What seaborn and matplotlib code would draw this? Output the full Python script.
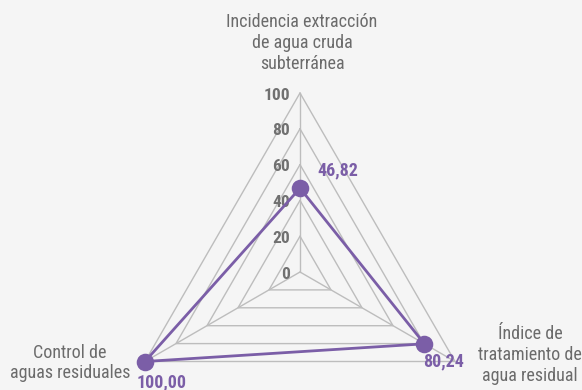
import numpy as np
import pandas as pd
import matplotlib
matplotlib.use("Agg")
import matplotlib.pyplot as plt
from matplotlib import font_manager
import seaborn as sns

# data
categories = ["Incidencia extracción\nde agua cruda\nsubterránea",
              "Índice de\ntratamiento de\nagua residual",
              "Control de\naguas residuales"]
values = [46.82, 80.24, 100.00]
value_labels = ["46,82", "80,24", "100,00"]
ticks = [0, 20, 40, 60, 80, 100]

PURPLE = "#7b5ea7"
GRID = "#bdbdbd"
BG = "#f5f5f5"
TXT = "#6b6b6b"


def pick_font():
    for name in ["Liberation Sans Narrow", "Roboto Condensed", "Roboto", "DejaVu Sans"]:
        try:
            font_manager.findfont(name, fallback_to_default=False)
            return name
        except Exception:
            continue
    return "DejaVu Sans"


sns.set_theme(style="white")
font = pick_font()
plt.rcParams["font.family"] = [font, "DejaVu Sans"]

W, H = 582, 390
fig = plt.figure(figsize=(W / 100, H / 100), dpi=100)
fig.patch.set_facecolor(BG)

# polar axes centred at (300, 272) px with radius 179 px
cx, cy, R = 300, 272, 179
ax = fig.add_axes([(cx - R) / W, (H - cy - R) / H, 2 * R / W, 2 * R / H], projection="polar")
ax.set_facecolor("none")
ax.set_theta_offset(np.pi / 2)
ax.set_theta_direction(-1)
ax.set_ylim(0, 100)
ax.grid(False)
ax.spines["polar"].set_visible(False)
ax.set_xticks([])
ax.set_yticks([])

angles = np.arange(len(categories)) * 2 * np.pi / len(categories)
closed = np.append(angles, angles[0])

# grid rings and spokes
for t in ticks[1:]:
    ax.plot(closed, [t] * len(closed), color=GRID, lw=1.0, zorder=1, clip_on=False)
for a in angles:
    ax.plot([a, a], [0, 100], color=GRID, lw=1.0, zorder=1, clip_on=False)

# tick labels on the top spoke
for t in ticks:
    ax.annotate(str(t), xy=(0, t), xytext=(-7, -1.5), textcoords="offset points",
                ha="right", va="center", fontsize=12.5, fontweight="bold", color="#707070", zorder=2)

# series
df = pd.DataFrame({"theta": closed, "r": values + values[:1]})
sns.lineplot(data=df, x="theta", y="r", sort=False, estimator=None, color=PURPLE, lw=2.0,
             ax=ax, zorder=3, clip_on=False)
sns.scatterplot(x=angles, y=values, color=PURPLE, s=160, edgecolor=PURPLE, linewidth=0,
                ax=ax, zorder=4, clip_on=False)
ax.set_xlabel("")
ax.set_ylabel("")

# value labels
offsets = [(27, 13), (14, -13), (12, -15)]
for a, v, lab, off in zip(angles, values, value_labels, offsets):
    ax.annotate(lab, xy=(a, v), xytext=off, textcoords="offset points",
                ha="center", va="center", fontsize=13, fontweight="bold", color=PURPLE, zorder=5)

# category labels (pixel positions)
cat_pos = [(302, 43), (530, 355), (70, 363)]
for lab, (px, py) in zip(categories, cat_pos):
    fig.text(px / W, 1 - py / H, lab, ha="center", va="center", fontsize=13,
             color=TXT, linespacing=1.2)

fig.savefig("out.png", dpi=100, facecolor=BG)
